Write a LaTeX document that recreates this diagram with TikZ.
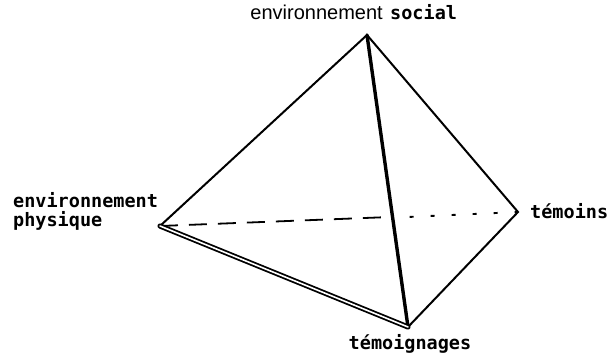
\documentclass[tikz,border=0pt]{standalone}
\usepackage{fontspec}
\newfontfamily\labfont{DejaVu Sans Mono}
\newfontfamily\topfont{Liberation Sans}
\usepackage{tikz}
\usetikzlibrary{positioning, calc}

\begin{document}
\begin{tikzpicture}[
    x=1pt, y=-1pt,
    edge/.style={line width=2pt, line join=miter, line cap=round},
    heavy/.style={line width=3.4pt, line cap=round},
    twin/.style={double, double distance=1.6pt, line width=1.8pt, line cap=round},
    hidden/.style={line width=1.8pt, dash pattern=on 18pt off 11pt},
    hiddenb/.style={line width=1.9pt, dash pattern=on 4pt off 17pt},
    lab/.style={font=\labfont\bfseries\fontsize{18.5}{19}\selectfont, inner sep=0pt, align=left}
]
\useasboundingbox (0,0) rectangle (611,353);

% vertices of the tetrahedron
\coordinate (soc) at (367,35);
\coordinate (phy) at (160,226);
\coordinate (tem) at (518,212);
\coordinate (tgn) at (408,327);
\coordinate (mid) at ($(phy)!0.65!(tem)$);

% hidden edge
\draw[hidden] (phy) -- (mid);
\draw[hiddenb] (mid) ++(17pt,0) coordinate (m2) (m2) -- (tem);

% visible edges
\draw[edge] (phy) -- (soc) -- (tem) -- (tgn);
\draw[heavy] (soc) -- (tgn);
\draw[twin] (phy) -- (tgn);

% labels
\node[anchor=base east, inner sep=0pt, font=\topfont\fontsize{20}{22}\selectfont] (envs) at (383,20) {environnement};
\node[lab, right=7pt of envs.base east, anchor=base west] (socl) {social};
\node[lab, anchor=north west] (phyl) at (13,192) {environnement\\physique};
\node[lab, anchor=west] (teml) at (530,211) {témoins};
\node[lab, anchor=north] (tgnl) at (410,334) {témoignages};
\end{tikzpicture}
\end{document}
